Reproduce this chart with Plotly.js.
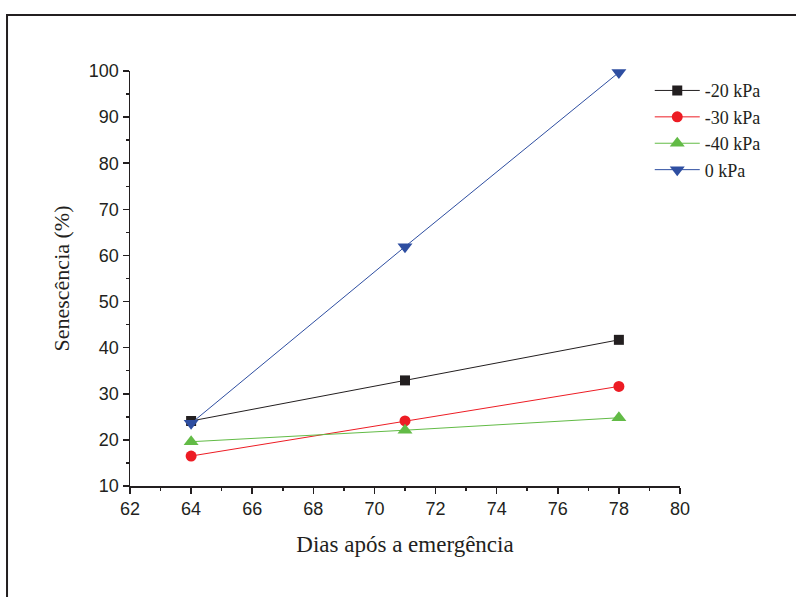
<!DOCTYPE html>
<html>
<head>
<meta charset="utf-8">
<script src="https://cdn.plot.ly/plotly-3.0.1.min.js"></script>
<style>html,body{margin:0;padding:0;background:#fff;}#chart{width:796px;height:597px;}</style>
</head>
<body>
<div id="chart"></div>
<script>
const days = [64, 71, 78];
const names = ['-20 kPa', '-30 kPa', '-40 kPa', '0 kPa'];
const s20 = [24.1, 32.9, 41.7];
const s30 = [16.5, 24.1, 31.6];
const s40 = [19.6, 22.1, 24.8];
const s0 = [23.6, 61.9, 99.7];
const colors = ['#231f20', '#ed1c24', '#62bb46', '#2e4ea1'];
const symbols = ['square', 'circle', 'triangle-up', 'triangle-down'];
const sizes = [10, 11, 13, 13];
const series = [s20, s30, s40, s0];

const traces = series.map((s, i) => ({
  x: days, y: s, name: names[i], type: 'scatter', mode: 'lines+markers',
  line: {color: colors[i], width: 1},
  marker: {color: colors[i], symbol: symbols[i], size: sizes[i]},
  cliponaxis: false
}));

const layout = {
  width: 796, height: 597,
  margin: {l: 130, r: 116, t: 71, b: 111},
  paper_bgcolor: '#fff', plot_bgcolor: '#fff',
  showlegend: true,
  legend: {x: 0.945, y: 0.997, xanchor: 'left', yanchor: 'top', bgcolor: 'rgba(0,0,0,0)',
    font: {family: 'Liberation Serif, Times New Roman, serif', size: 18, color: '#231f20'},
    tracegroupgap: 0, itemwidth: 45},
  xaxis: {
    range: [62, 80], dtick: 2, tick0: 62, showgrid: false, zeroline: false,
    showline: true, linecolor: '#231f20', linewidth: 1.5,
    ticks: 'outside', ticklen: 6, tickwidth: 1.5, tickcolor: '#231f20',
    minor: {dtick: 1, ticks: 'outside', ticklen: 3, tickwidth: 1.5, tickcolor: '#231f20', showgrid: false},
    tickfont: {family: 'Liberation Sans, Arial, sans-serif', size: 18, color: '#231f20'},
    title: {text: 'Dias após a emergência', standoff: 18,
      font: {family: 'Liberation Serif, Times New Roman, serif', size: 23, color: '#231f20'}}
  },
  yaxis: {
    range: [10, 100], dtick: 10, tick0: 10, showgrid: false, zeroline: false,
    showline: true, linecolor: '#231f20', linewidth: 1.5,
    ticks: 'outside', ticklen: 6, tickwidth: 1.5, tickcolor: '#231f20',
    minor: {dtick: 5, ticks: 'outside', ticklen: 3, tickwidth: 1.5, tickcolor: '#231f20', showgrid: false},
    tickfont: {family: 'Liberation Sans, Arial, sans-serif', size: 18, color: '#231f20'},
    title: {text: 'Senescência (%)', standoff: 13,
      font: {family: 'Liberation Serif, Times New Roman, serif', size: 22, color: '#231f20'}}
  },
  shapes: [{type: 'rect', xref: 'paper', yref: 'paper', x0: -0.2236, x1: 1.3, y0: -0.35, y1: 1.135,
    line: {color: '#231f20', width: 2}, fillcolor: 'rgba(0,0,0,0)', layer: 'below'}]
};

Plotly.newPlot('chart', traces, layout, {displayModeBar: false, staticPlot: true});
</script>
</body>
</html>
